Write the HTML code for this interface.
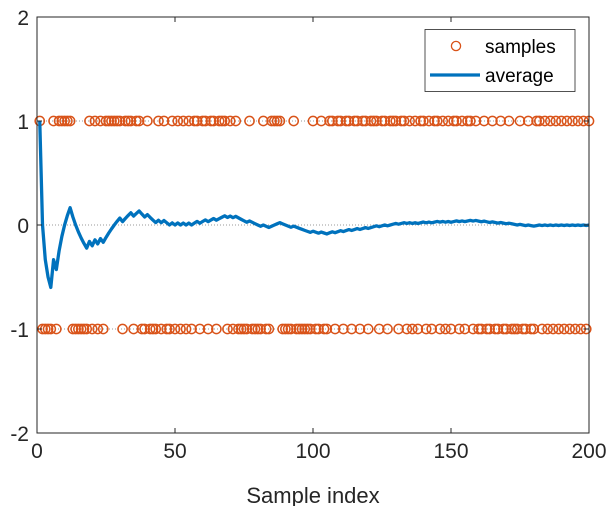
<!DOCTYPE html><html><head><style>body{margin:0;background:#fff}svg{display:block}</style></head><body>
<svg id="s" width="611" height="506" xmlns="http://www.w3.org/2000/svg" font-family="Liberation Sans, sans-serif"></svg>
<script>
const L=37,R=589,T=17,B=433;
const X=i=>L+(i)*(R-L)/200, Y=v=>T+(2-v)*(B-T)/4;
const wp=[[1,1],[5,-0.6],[6,-0.33],[7,-0.43],[12,0.167],[17,-0.176],[23.4,-0.16],[27.6,0],[36.7,0.135],[43.5,0.03],[55,0.005],[70,0.087],[83.6,-0.025],[87.8,0.02],[97.7,-0.058],[105,-0.08],[131.5,0.016],[159,0.04],[178.6,-0.006],[200,0]];
function tgt(n){for(let k=0;k<wp.length-1;k++){if(n<=wp[k+1][0]){const a=wp[k],b=wp[k+1];return a[1]+(b[1]-a[1])*(n-a[0])/(b[0]-a[0]);}}return 0;}
let S=0,s=[],avg=[];
for(let n=1;n<=200;n++){let t=tgt(n)*n;let v=(Math.abs(S+1-t)<=Math.abs(S-1-t))?1:-1;if(n<=5)v=n==1?1:-1;if(n==6)v=1;if(n==7)v=-1;S+=v;s.push(v);avg.push(S/n);}
let h='';
h+=`<rect x="${L}" y="${T}" width="${R-L}" height="${B-T}" fill="#fff"/>`;
[1,0,-1].forEach(v=>h+=`<line x1="${L}" x2="${R}" y1="${Y(v)}" y2="${Y(v)}" stroke="#777" stroke-width="0.8" stroke-dasharray="1,2"/>`);
s.forEach((v,i)=>h+=`<circle cx="${X(i+1)}" cy="${Y(v)}" r="4.6" fill="none" stroke="#D95319" stroke-width="1.5"/>`);
h+=`<polyline fill="none" stroke="#0072BD" stroke-width="3.3" stroke-linejoin="round" points="${avg.map((a,i)=>X(i+1)+','+Y(a)).join(' ')}"/>`;
h+=`<rect x="${L}" y="${T}" width="${R-L}" height="${B-T}" fill="none" stroke="#262626" stroke-width="1"/>`;
[0,50,100,150,200].forEach(v=>{const x=X(v);h+=`<line x1="${x}" x2="${x}" y1="${B}" y2="${B-5}" stroke="#262626"/><line x1="${x}" x2="${x}" y1="${T}" y2="${T+5}" stroke="#262626"/><text x="${x}" y="${B+25}" font-size="21" text-anchor="middle" fill="#262626">${v}</text>`});
[2,1,0,-1,-2].forEach(v=>{const y=Y(v);h+=`<line x1="${L}" x2="${L+5}" y1="${y}" y2="${y}" stroke="#262626"/><line x1="${R}" x2="${R-5}" y1="${y}" y2="${y}" stroke="#262626"/><text x="${L-8}" y="${y+8}" font-size="21" text-anchor="end" fill="#262626">${v}</text>`});
h+=`<text x="313" y="503" font-size="22" text-anchor="middle" fill="#262626">Sample index</text>`;
h+=`<rect x="425" y="29.5" width="150" height="62" fill="#fff" stroke="#262626" stroke-width="0.8"/>`;
h+=`<circle cx="456" cy="46" r="4.6" fill="none" stroke="#D95319" stroke-width="1.3"/><line x1="430" x2="480" y1="75" y2="75" stroke="#0072BD" stroke-width="3.3"/>`;
h+=`<text x="485" y="53" font-size="19" fill="#000">samples</text><text x="485" y="82" font-size="19" fill="#000">average</text>`;
document.getElementById('s').innerHTML=h;
</script>
</body></html>
